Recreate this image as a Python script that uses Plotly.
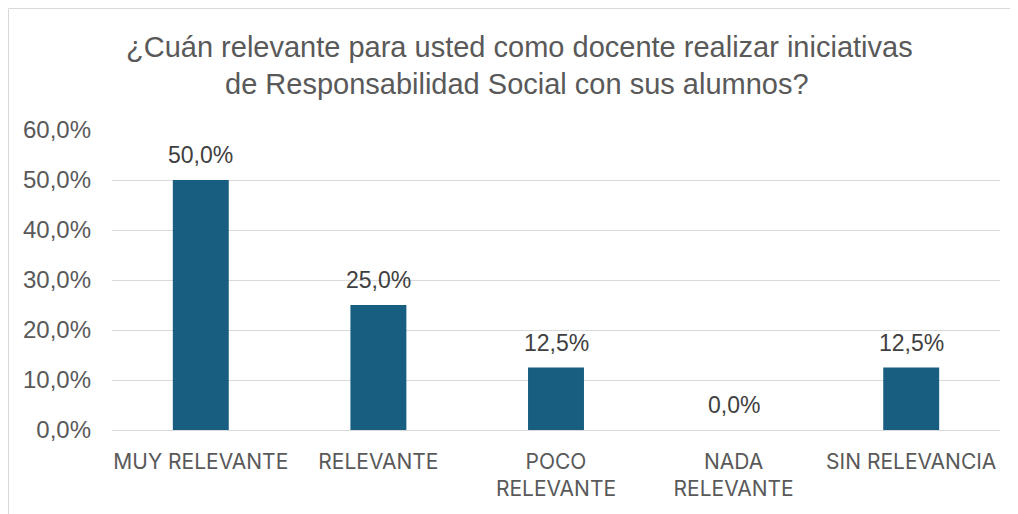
import plotly.graph_objects as go

categories = ["MUY RELEVANTE", "RELEVANTE", "POCO<br>RELEVANTE", "NADA<br>RELEVANTE", "SIN RELEVANCIA"]
values = [0.50, 0.25, 0.125, 0.0, 0.125]
title_lines = ["¿Cuán relevante para usted como docente realizar iniciativas",
               "de Responsabilidad Social con sus alumnos?"]

# page body has an 8px margin, so figure coords = screen coords - 8
OFF = 8
W, H = 1010, 506
L, R, T, B = 112 - OFF, 18, 130 - OFF, 506 - (430 - OFF)
pw, ph = W - L - R, H - T - B

def px_x(x):
    return (x - OFF - L) / pw

def px_y(y):
    return (H - B - (y - OFF)) / ph

fig = go.Figure()
fig.add_trace(go.Bar(
    x=categories, y=values,
    marker=dict(color="#175E80", line=dict(width=0)),
    width=0.315,
    hoverinfo="skip",
))

for c, v in zip(categories, values):
    fig.add_annotation(
        x=c, y=v, xref="x", yref="y",
        text=f"{v*100:.1f}%".replace(".", ","),
        showarrow=False, yanchor="bottom", yshift=10,
        font=dict(family="Liberation Sans, Arial", size=23, color="#404040"),
    )

fig.add_annotation(x=px_x(519), y=px_y(47), xref="paper", yref="paper",
                   text=title_lines[0], showarrow=False, xanchor="center", yanchor="middle",
                   font=dict(family="Liberation Sans, Arial", size=29, color="#595959"))
fig.add_annotation(x=px_x(517), y=px_y(84), xref="paper", yref="paper",
                   text=title_lines[1], showarrow=False, xanchor="center", yanchor="middle",
                   font=dict(family="Liberation Sans, Arial", size=29, color="#595959"))

fig.add_shape(type="rect", xref="paper", yref="paper",
              x0=px_x(8.5), y0=px_y(540), x1=px_x(1040), y1=px_y(8.5),
              line=dict(color="#D9D9D9", width=1), fillcolor="rgba(0,0,0,0)", layer="below")

fig.update_layout(
    width=W, height=H,
    margin=dict(l=L, r=R, t=T, b=B, autoexpand=False),
    paper_bgcolor="white", plot_bgcolor="white",
    separators=",.",
    showlegend=False,
    xaxis=dict(showgrid=False, showline=False, ticks="",
               tickfont=dict(family="Inter, Liberation Sans", size=21, color="#595959"),
               ticklabelstandoff=17,
               fixedrange=True),
    yaxis=dict(range=[0, 0.6], dtick=0.1, tickformat=".1%",
               showgrid=True, gridcolor="#D9D9D9", gridwidth=1,
               zeroline=True, zerolinecolor="#D9D9D9", zerolinewidth=1,
               showline=False, ticks="", ticklabelstandoff=20,
               tickfont=dict(family="Liberation Sans, Arial", size=24, color="#595959"),
               fixedrange=True),
)

fig.write_html("out.html")
